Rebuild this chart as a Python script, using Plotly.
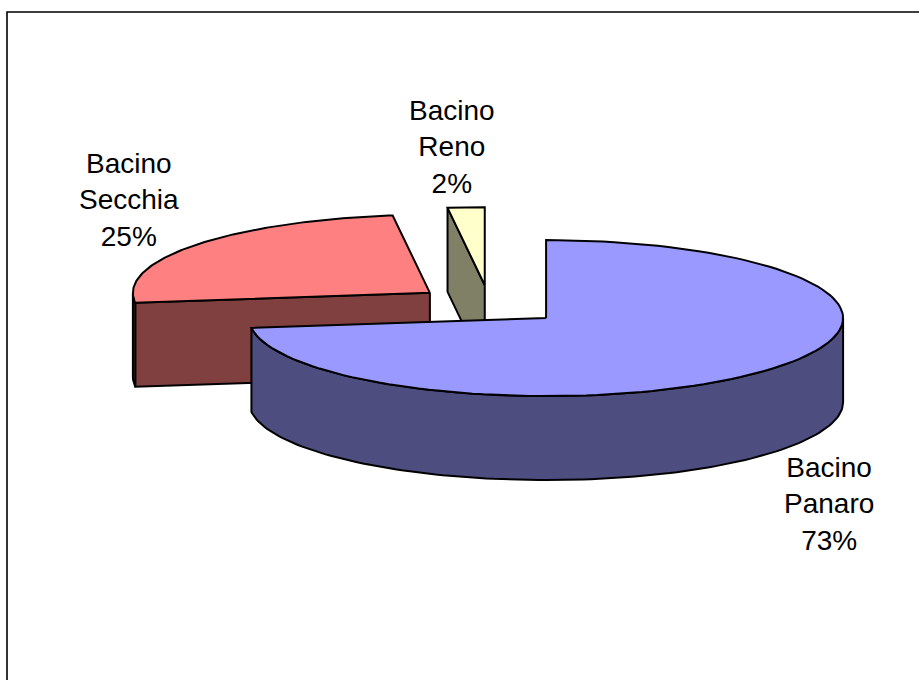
import numpy as np
import plotly.graph_objects as go

# Data
basins = ["Bacino Panaro", "Bacino Secchia", "Bacino Reno"]
shares = [73, 25, 2]

# Styles
top_colors = ["#9999FF", "#FF8080", "#FFFFCC"]
side_colors = ["#4D4D80", "#804040", "#808066"]
label_xy = [(829, 504), (129, 200), (452, 147)]

# Canvas / 3-D pie geometry (pixel units)
W, H = 919, 680
CX, CY = 489.5, 305.0
RX, RY = 297.0, 78.0
DEPTH = 84.0
EXPLODE = 0.254
FONT = "Liberation Sans, Arial, sans-serif"


def pt(theta, r, z, ox, oy):
    t = np.radians(theta)
    return ox + RX * r * np.cos(t), oy - RY * r * np.sin(t) + DEPTH * z


def arc(a, b, z, ox, oy, n=120):
    th = np.linspace(a, b, n)
    xs, ys = pt(th, 1.0, z, ox, oy)
    return list(xs), list(ys)


fig = go.Figure()
total = float(sum(shares))
slices = []
cum = 0.0
for name, v, ct, cs in zip(basins, shares, top_colors, side_colors):
    th0 = 90.0 - 360.0 * cum / total          # counter-clockwise end
    th1 = 90.0 - 360.0 * (cum + v) / total    # clockwise end
    cum += v
    mid = np.radians((th0 + th1) / 2)
    ox = CX + EXPLODE * RX * np.cos(mid)
    oy = CY - EXPLODE * RY * np.sin(mid)
    slices.append((name, v, ct, cs, th0, th1, ox, oy))


def poly(xs, ys, color):
    fig.add_trace(go.Scatter(
        x=xs + [xs[0]], y=ys + [ys[0]], mode="lines", fill="toself",
        fillcolor=color, line=dict(color="black", width=2),
        hoverinfo="skip", showlegend=False))


# paint back to front
for name, v, ct, cs, th0, th1, ox, oy in sorted(slices, key=lambda s: s[7]):
    # radial cut faces facing the viewer
    for th, vis in ((th0, np.cos(np.radians(th0)) < -1e-9),
                    (th1, np.cos(np.radians(th1)) > 1e-9)):
        if vis:
            x1, y1 = pt(th, 1.0, 0, ox, oy)
            x2, y2 = pt(th, 1.0, 1, ox, oy)
            poly([ox, float(x1), float(x2), ox],
                 [oy, float(y1), float(y2), oy + DEPTH], cs)
    # front part of the outer wall
    for k in range(-2, 2):
        lo, hi = 180.0 + 360.0 * k, 360.0 + 360.0 * k
        a, b = max(th1, lo), min(th0, hi)
        if b - a > 1e-6:
            tx, ty = arc(a, b, 0, ox, oy)
            bx, by = arc(b, a, 1, ox, oy)
            poly(tx + bx, ty + by, cs)
    # top face
    tx, ty = arc(th1, th0, 0, ox, oy)
    poly([ox] + tx, [oy] + ty, ct)

annotations = []
for (name, v, *_), (lx, ly) in zip(slices, label_xy):
    pct = round(100 * v / total)
    annotations.append(dict(
        x=lx, y=ly, xref="x", yref="y", showarrow=False,
        text=name.replace(" ", "<br>") + f"<br>{pct}%",
        font=dict(family=FONT, size=28, color="black"),
        align="center", xanchor="center", yanchor="middle"))

fig.update_layout(
    width=W, height=H, margin=dict(l=0, r=0, t=0, b=0),
    paper_bgcolor="white", plot_bgcolor="white",
    xaxis=dict(range=[0, W], visible=False, fixedrange=True),
    yaxis=dict(range=[H, 0], visible=False, fixedrange=True),
    annotations=annotations,
    shapes=[dict(type="rect", xref="x", yref="y", x0=7, y0=12, x1=W + 20,
                 y1=H + 20, line=dict(color="black", width=1.6),
                 fillcolor="rgba(0,0,0,0)", layer="above")],
)

fig.write_html("out.html")
